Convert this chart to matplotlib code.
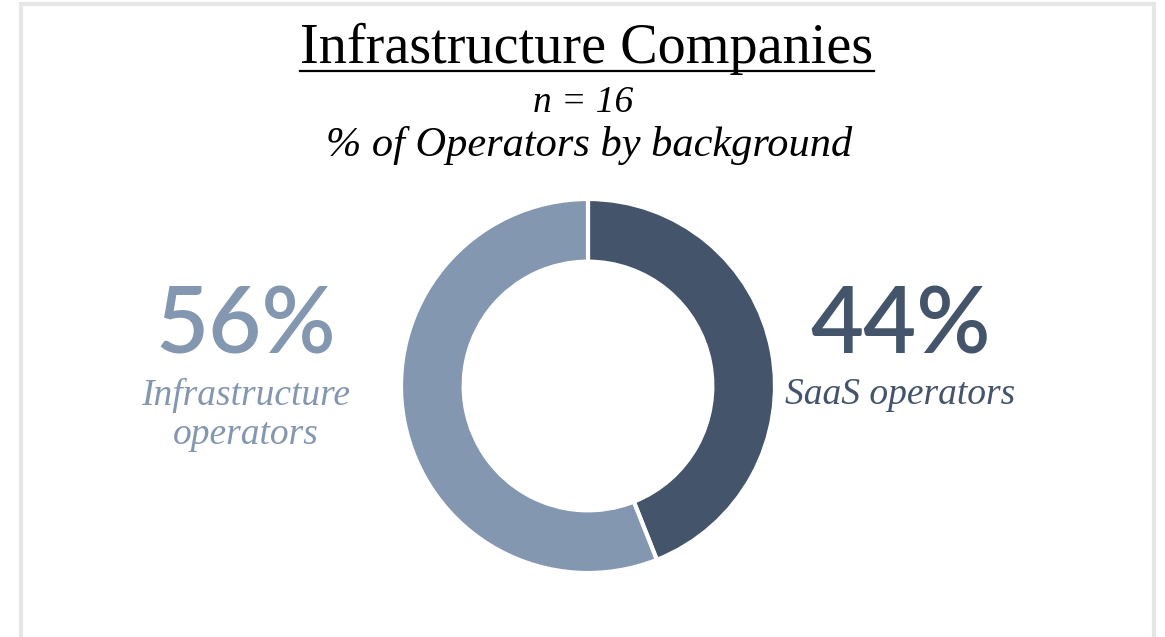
import matplotlib
matplotlib.use("Agg")
import matplotlib.pyplot as plt
from matplotlib.patches import Rectangle
from matplotlib.lines import Line2D

# Data
categories = ["SaaS operators", "Infrastructure operators"]
shares = [44, 56]
colors = ["#44546a", "#8497b0"]
title = "Infrastructure Companies"
sample_label = "n = 16"
subtitle = "% of Operators by background"

W, H = 1165, 637
fig = plt.figure(figsize=(W / 100, H / 100), dpi=100)
fig.patch.set_facecolor("white")

def px(x, y):
    """Figure-fraction coords from pixel coords measured from the top-left."""
    return x / W, 1 - y / H

# Frame around the card
fig.patches.append(Rectangle(px(21, 700), (1154 - 21) / W, (700 - 4) / H,
                             transform=fig.transFigure, fill=False,
                             edgecolor="#e6e6e6", linewidth=3))

serif = ["Liberation Serif", "DejaVu Serif"]
sans = ["Lato", "DejaVu Sans"]

# Donut
cx, cy, r = 588, 386, 187
ax = fig.add_axes([(cx - r) / W, 1 - (cy + r) / H, 2 * r / W, 2 * r / H])
ax.pie(shares, colors=colors, startangle=90, counterclock=False, radius=1.0,
       wedgeprops=dict(width=0.335, edgecolor="white", linewidth=3))
ax.set_xlim(-1, 1)
ax.set_ylim(-1, 1)
ax.set_aspect("equal")
ax.axis("off")

# Titles
t = fig.text(*px(587, 49), title, ha="center", va="center", fontsize=40.5,
             family=serif, color="black")
fig.text(*px(583, 103), sample_label, ha="center", va="center", fontsize=27,
         family=serif, style="italic", color="black")
fig.text(*px(589, 146), subtitle, ha="center", va="center", fontsize=30.5,
         family=serif, style="italic", color="black")

fig.canvas.draw()
bb = t.get_window_extent(fig.canvas.get_renderer())
uy = 1 - 70.5 / H
fig.lines.append(Line2D([bb.x0 / W, bb.x1 / W], [uy, uy], transform=fig.transFigure,
                        color="black", linewidth=1.6))

# Value labels
fig.text(*px(246, 327), f"{shares[1]}%", ha="center", va="center", fontsize=66,
         family=sans, weight="semibold", color=colors[1])
fig.text(*px(246, 415), "Infrastructure\noperators", ha="center", va="center",
         fontsize=27, family=serif, style="italic", color=colors[1], linespacing=1.2)
fig.text(*px(901, 327), f"{shares[0]}%", ha="center", va="center", fontsize=66,
         family=sans, weight="semibold", color=colors[0])
fig.text(*px(900, 395), categories[0], ha="center", va="center",
         fontsize=27, family=serif, style="italic", color=colors[0])

fig.savefig("out.png", dpi=100, facecolor="white")
